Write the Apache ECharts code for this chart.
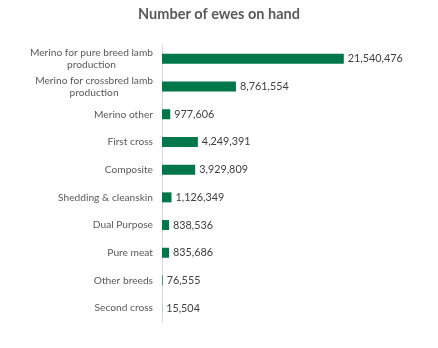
<!DOCTYPE html>
<html>
<head>
<meta charset="utf-8">
<script src="https://cdn.jsdelivr.net/npm/echarts@6/dist/echarts.min.js"></script>
<style>
  html, body { margin: 0; padding: 0; background: #ffffff; }
  #chart { width: 438px; height: 348px; }
</style>
</head>
<body>
<div id="chart"></div>
<script>
// Ewe breed categories, top to bottom
const categories = [
  'Merino for pure breed lamb\nproduction',
  'Merino for crossbred lamb\nproduction',
  'Merino other',
  'First cross',
  'Composite',
  'Shedding & cleanskin',
  'Dual Purpose',
  'Pure meat',
  'Other breeds',
  'Second cross'
];
// Number of ewes on hand per category
const ewes = [21540476, 8761554, 977606, 4249391, 3929809, 1126349, 838536, 835686, 76555, 15504];

const FONT = 'Lato, "Open Sans", sans-serif';

const chart = echarts.init(document.getElementById('chart'), null, { renderer: 'canvas' });
chart.setOption({
  animation: false,
  backgroundColor: '#ffffff',
  title: {
    text: 'Number of ewes on hand',
    left: 'center',
    top: 2,
    textStyle: { fontFamily: FONT, fontSize: 14.5, fontWeight: 'bold', color: '#595959' }
  },
  grid: { left: 162, top: 45, width: 211, height: 277, containLabel: false },
  xAxis: {
    type: 'value',
    min: 0,
    max: 25000000,
    show: false
  },
  yAxis: {
    type: 'category',
    data: categories,
    inverse: true,
    axisLine: { show: true, lineStyle: { color: '#d9d9d9', width: 1 } },
    axisTick: { show: false },
    axisLabel: {
      margin: 9,
      fontFamily: FONT,
      fontSize: 10.2,
      color: '#595959',
      lineHeight: 12.5,
      formatter: function (v) {
        return v.split('\n').map(function (s) { return '{c|' + s + '}'; }).join('\n');
      },
      rich: { c: { align: 'center', fontFamily: FONT, fontSize: 10.2, color: '#595959', lineHeight: 12.5 } }
    }
  },
  series: [{
    type: 'bar',
    data: ewes,
    barWidth: 10,
    itemStyle: { color: '#00774a' },
    label: {
      show: true,
      position: 'right',
      distance: 4,
      fontFamily: FONT,
      fontSize: 10.8,
      color: '#404040',
      formatter: function (p) { return p.value.toLocaleString('en-US'); }
    }
  }]
});
</script>
</body>
</html>
